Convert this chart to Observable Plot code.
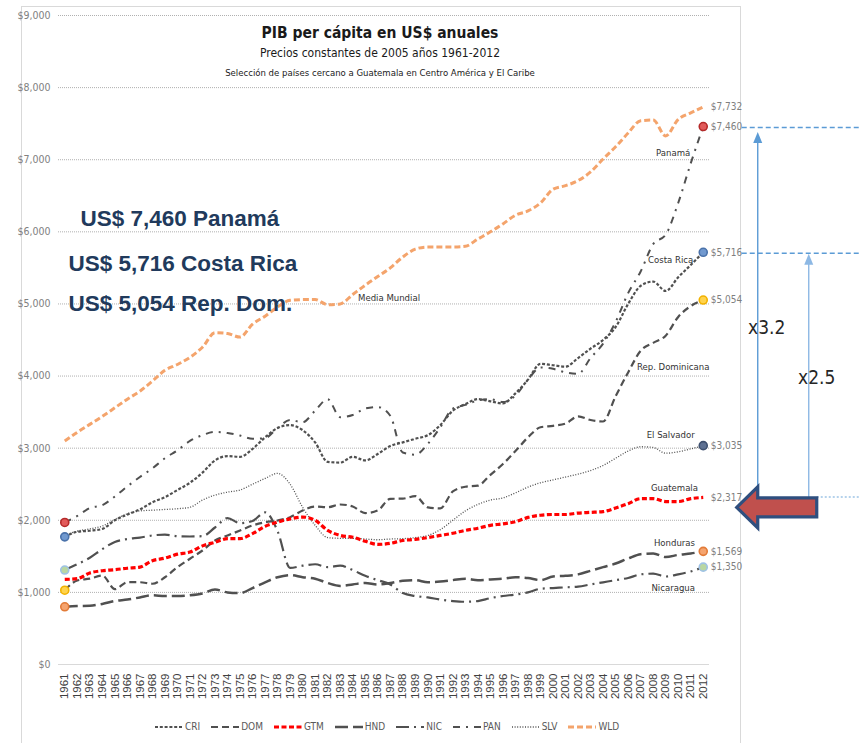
<!DOCTYPE html>
<html>
<head>
<meta charset="utf-8">
<script src="https://cdn.jsdelivr.net/npm/d3@7"></script>
<script src="https://cdn.jsdelivr.net/npm/@observablehq/plot@0.6"></script>
<style>
  html, body { margin: 0; padding: 0; background: #fff; }
  #wrap { position: relative; width: 860px; height: 743px; background: #fff; overflow: hidden; }
  #frame { position: absolute; left: 21px; top: 6px; width: 720px; height: 740px; border: 1px solid #d9d9d9; box-sizing: border-box; }
  #chart { position: absolute; left: 0; top: 0; }
  #legend { position: absolute; left: 155px; top: 721px; display: flex; align-items: center;
            font-family: "Liberation Sans Narrow", "DejaVu Sans Condensed", "Open Sans", sans-serif; font-stretch: condensed;
            font-size: 10px; color: #595959; }
  #legend .item { display: flex; align-items: center; margin-right: 11px; }
  #legend svg { margin-right: 2px; }
</style>
</head>
<body>
<div id="wrap">
  <div id="frame"></div>
  <div id="chart"></div>
  <div id="legend"></div>
</div>
<script>
// ---------- DATA ----------
const years = d3.range(1961, 2013);
const CRI = [1770,1840,1855,1880,2000,2080,2150,2250,2320,2420,2520,2660,2830,2890,2880,2990,3150,3280,3320,3250,3080,2810,2800,2880,2830,2920,3030,3080,3130,3180,3320,3520,3610,3680,3650,3620,3760,3950,4170,4150,4130,4250,4380,4500,4680,5000,5250,5310,5180,5370,5540,5716];
const DOM = [1030,1165,1190,1234,1045,1141,1141,1120,1210,1350,1466,1581,1720,1789,1858,1928,1973,1997,2043,2136,2191,2181,2219,2191,2100,2136,2298,2300,2335,2180,2165,2400,2465,2480,2630,2780,2960,3150,3290,3310,3340,3440,3390,3370,3720,4050,4350,4460,4560,4820,4970,5054];
const GTM = [1180,1190,1270,1300,1315,1335,1350,1440,1475,1530,1560,1645,1695,1745,1745,1815,1915,1975,2020,2045,2000,1860,1790,1765,1710,1665,1680,1720,1735,1760,1790,1820,1860,1890,1930,1950,1980,2040,2070,2080,2080,2100,2110,2120,2170,2230,2300,2300,2260,2260,2300,2317];
const HND = [800,810,815,840,880,900,930,960,950,950,960,985,1040,1000,990,1060,1140,1210,1240,1210,1190,1130,1090,1110,1130,1110,1130,1160,1170,1140,1150,1170,1190,1170,1180,1190,1210,1200,1170,1220,1230,1250,1300,1350,1400,1470,1530,1540,1490,1520,1540,1569];
const NIC = [1310,1390,1480,1600,1700,1740,1760,1790,1800,1780,1775,1780,1900,2030,1960,1990,2110,1850,1340,1370,1390,1350,1370,1310,1230,1170,1110,990,950,930,900,880,870,880,920,950,970,1000,1050,1060,1070,1080,1110,1140,1170,1200,1250,1260,1220,1250,1290,1350];
const PAN = [1970,2060,2170,2210,2330,2470,2600,2720,2860,2970,3100,3180,3225,3210,3175,3130,3140,3280,3390,3360,3520,3680,3430,3460,3550,3570,3450,2940,2910,3060,3290,3550,3600,3660,3680,3640,3730,3950,4120,4100,4050,4030,4250,4450,4750,5150,5450,5830,5960,6400,6950,7460];
const SLV = [1790,1850,1880,1920,2010,2090,2130,2140,2150,2160,2180,2280,2350,2390,2420,2500,2580,2650,2500,2180,1930,1760,1750,1750,1740,1730,1740,1745,1760,1790,1870,2000,2130,2220,2280,2310,2380,2460,2520,2560,2600,2640,2690,2760,2860,2960,3020,3010,2930,2950,2990,3035];
const WLD = [3100,3220,3330,3440,3560,3680,3790,3930,4080,4160,4260,4400,4600,4590,4540,4720,4830,4960,5050,5060,5060,4990,5000,5130,5260,5380,5500,5650,5760,5790,5790,5790,5800,5900,6000,6110,6230,6290,6400,6590,6640,6710,6830,7010,7180,7370,7540,7550,7330,7560,7650,7732];

const codes = ["CRI","DOM","GTM","HND","NIC","PAN","SLV","WLD"];
const countryNames = {PAN:"Panamá", CRI:"Costa Rica", DOM:"Rep. Dominicana", SLV:"El Salvador", GTM:"Guatemala", HND:"Honduras", NIC:"Nicaragua", WLD:"Media Mundial"};
const yTicks = d3.range(0, 9001, 1000);
const titleLines = ["PIB per cápita en US$ anuales", "Precios constantes de 2005 años 1961-2012", "Selección de países cercano a Guatemala en Centro América y El Caribe"];

// ---------- TABLE ----------
const seriesData = {CRI, DOM, GTM, HND, NIC, PAN, SLV, WLD};
const rows = codes.flatMap(c => years.map((yr, i) => ({code: c, year: yr, value: seriesData[c][i]})));
const first = c => ({code: c, year: years[0], value: seriesData[c][0]});
const last = c => ({code: c, year: years[years.length - 1], value: seriesData[c][years.length - 1]});
const fmt = d3.format(",");

// ---------- STYLES ----------
const lineStyle = {
  CRI: {stroke: "#505050", w: 2.2, dash: "3,1.8"},
  DOM: {stroke: "#505050", w: 2.2, dash: "7,4"},
  GTM: {stroke: "#ff0000", w: 3.2, dash: "5,2.5"},
  HND: {stroke: "#505050", w: 2.5, dash: "13,5"},
  NIC: {stroke: "#505050", w: 2.2, dash: "13,5,2,5"},
  PAN: {stroke: "#505050", w: 2.0, dash: "7,6,2,6"},
  SLV: {stroke: "#505050", w: 1.3, dash: "1,1.6"},
  WLD: {stroke: "#f4a46c", w: 3.0, dash: "6,3"}
};
const dotStyle = {
  PAN: {fill: "#e25b5b", stroke: "#b52a2a"},
  CRI: {fill: "#7199cf", stroke: "#4a72aa"},
  DOM: {fill: "#ffd34d", stroke: "#f2b200"},
  HND: {fill: "#f5a46f", stroke: "#e27b38"},
  NIC: {fill: "#b9d7a3", stroke: "#9ec2e6"},
  SLV: {fill: "#5d7092", stroke: "#3e506f"}
};
const startDots = ["PAN","CRI","NIC","DOM","HND"].map(first);
const endDots = ["PAN","CRI","DOM","SLV","HND","NIC"].map(last);
const endLabels = ["WLD","PAN","CRI","DOM","SLV","GTM","HND","NIC"].map(last);
// annotation label positions (year, value) for country names
const nameLabels = [
  {code: "PAN", x: 2009.6, y: 7100},
  {code: "CRI", x: 2009.4, y: 5610},
  {code: "DOM", x: 2009.6, y: 4120},
  {code: "SLV", x: 2009.4, y: 3190},
  {code: "GTM", x: 2009.7, y: 2455},
  {code: "HND", x: 2009.7, y: 1690},
  {code: "NIC", x: 2009.6, y: 1055},
  {code: "WLD", x: 1986.9, y: 5090}
];

const narrow = '"Liberation Sans Narrow", "DejaVu Sans Condensed", "Open Sans", sans-serif';

// right-side annotation (arrows and multipliers), positioned from scales
function rightAnnotations(index, scales) {
  const x = scales.x, y = scales.y;
  const xe = x(years[years.length - 1]);
  const yP = y(PAN[PAN.length - 1]), yC = y(CRI[CRI.length - 1]), yG = y(GTM[GTM.length - 1]);
  const g = d3.create("svg:g");
  // dashed reference lines
  [yP, yC].forEach(yy => g.append("line").attr("x1", xe + 39).attr("x2", 860).attr("y1", yy + 1.5).attr("y2", yy + 1.5)
    .attr("stroke", "#5b9bd5").attr("stroke-width", 1.5).attr("stroke-dasharray", "5,3"));
  g.append("line").attr("x1", xe + 114).attr("x2", 860).attr("y1", yG).attr("y2", yG)
    .attr("stroke", "#9dc3e6").attr("stroke-width", 1.5).attr("stroke-dasharray", "2,2");
  // vertical arrows
  const arrows = [{ax: xe + 55, top: yP + 6, col: "#5b9bd5"}, {ax: xe + 106, top: yC + 2, col: "#8db8e4"}];
  arrows.forEach(a => {
    g.append("line").attr("x1", a.ax).attr("x2", a.ax).attr("y1", yG).attr("y2", a.top + 10)
      .attr("stroke", a.col).attr("stroke-width", 1.4);
    g.append("path").attr("d", `M${a.ax},${a.top} L${a.ax - 4.5},${a.top + 11} L${a.ax + 4.5},${a.top + 11} Z`).attr("fill", a.col);
  });
  // multipliers
  const r1 = "x" + (PAN[PAN.length - 1] / GTM[GTM.length - 1]).toFixed(1);
  const r2 = "x" + (CRI[CRI.length - 1] / GTM[GTM.length - 1]).toFixed(1);
  g.append("text").attr("x", xe + 64).attr("y", y(4670)).attr("dy", "0.35em").text(r1)
    .attr("font-family", narrow).attr("font-size", 19).attr("fill", "#262626");
  g.append("text").attr("x", xe + 114).attr("y", y(3970)).attr("dy", "0.35em").text(r2)
    .attr("font-family", narrow).attr("font-size", 19).attr("fill", "#262626");
  // big block arrow pointing at Guatemala
  const c = yG + 10.5, tip = xe + 34, hb = xe + 55, end = xe + 114;
  g.append("path").attr("d", `M${tip},${c} L${hb},${c - 20.5} L${hb},${c - 9.5} L${end},${c - 9.5} L${end},${c + 9.5} L${hb},${c + 9.5} L${hb},${c + 20.5} Z`)
    .attr("fill", "#c0504d").attr("stroke", "#2f4f7f").attr("stroke-width", 3.2).attr("stroke-linejoin", "miter");
  return g.node();
}

const lineMarks = ["CRI","DOM","HND","NIC","PAN","SLV","WLD","GTM"].map(c =>
  Plot.line(rows.filter(r => r.code === c), {
    x: "year", y: "value", curve: "monotone-x",
    stroke: lineStyle[c].stroke, strokeWidth: lineStyle[c].w, strokeDasharray: lineStyle[c].dash,
    strokeLinecap: "butt", strokeLinejoin: "round"
  })
);

const chart = Plot.plot({
  width: 860,
  height: 716,
  marginLeft: 58,
  marginRight: 151,
  marginTop: 15,
  marginBottom: 52,
  x: {domain: [1960.5, 2012.5], axis: null},
  y: {domain: [0, 9000], axis: null},
  style: {background: "none", fontFamily: narrow, overflow: "visible"},
  marks: [
    Plot.gridY(yTicks.filter(d => d > 0), {stroke: "#b0b0b0", strokeOpacity: 1, strokeWidth: 1, strokeDasharray: "1,1"}),
    Plot.ruleY([0], {stroke: "#d9d9d9", strokeWidth: 1}),
    Plot.axisY(yTicks, {tickSize: 0, tickPadding: 8, fontSize: 10.5, fill: "#808080", stroke: "none",
      tickFormat: d => "$" + fmt(d), fontFamily: narrow}),
    Plot.axisX(years, {tickSize: 0, tickPadding: 9, tickRotate: -90, fontSize: 11.5, fill: "#404040", stroke: "none",
      tickFormat: d => String(d), fontFamily: '"Liberation Sans", Arial, sans-serif'}),
    ...lineMarks,
    Plot.dot(startDots.concat(endDots), {x: "year", y: "value", r: 4,
      fill: d => dotStyle[d.code].fill, stroke: d => dotStyle[d.code].stroke, strokeWidth: 1.6}),
    Plot.text(endLabels, {x: "year", y: "value", dx: 7.5, textAnchor: "start", text: d => "$" + fmt(d.value),
      fontSize: 10, fill: "#7f7f7f"}),
    Plot.text(nameLabels, {x: "x", y: "y", text: d => countryNames[d.code], fontSize: 9.5, fill: "#333"}),
    // titles
    Plot.text([titleLines[0]], {text: d => d, frameAnchor: "top", dx: -4, dy: 18, lineAnchor: "middle",
      fontSize: 15.5, fontWeight: "bold", fill: "#1a1a1a"}),
    Plot.text([titleLines[1]], {text: d => d, frameAnchor: "top", dx: -4, dy: 38, lineAnchor: "middle",
      fontSize: 12, fill: "#1a1a1a"}),
    Plot.text([titleLines[2]], {text: d => d, frameAnchor: "top", dx: -4, dy: 57, lineAnchor: "middle",
      fontSize: 9.5, fill: "#1a1a1a"}),
    // big highlight texts
    Plot.text([`US$ ${fmt(PAN[PAN.length - 1])} ${countryNames.PAN}`], {text: d => d, frameAnchor: "top-left", dx: 22, dy: 203,
      lineAnchor: "middle", textAnchor: "start", fontSize: 22.5, fontWeight: "bold", fill: "#213a5c",
      fontFamily: '"Liberation Sans", Arial, sans-serif'}),
    Plot.text([`US$ ${fmt(CRI[CRI.length - 1])} ${countryNames.CRI}`], {text: d => d, frameAnchor: "top-left", dx: 10, dy: 248,
      lineAnchor: "middle", textAnchor: "start", fontSize: 22.5, fontWeight: "bold", fill: "#213a5c",
      fontFamily: '"Liberation Sans", Arial, sans-serif'}),
    Plot.text([`US$ ${fmt(DOM[DOM.length - 1])} Rep. Dom.`], {text: d => d, frameAnchor: "top-left", dx: 10, dy: 288,
      lineAnchor: "middle", textAnchor: "start", fontSize: 22.5, fontWeight: "bold", fill: "#213a5c",
      fontFamily: '"Liberation Sans", Arial, sans-serif'}),
    rightAnnotations
  ]
});
document.getElementById("chart").appendChild(chart);

// ---------- LEGEND ----------
const legend = d3.select("#legend");
codes.forEach(c => {
  const it = legend.append("div").attr("class", "item");
  const s = it.append("svg").attr("width", 28).attr("height", 8);
  s.append("line").attr("x1", 0).attr("x2", 28).attr("y1", 4).attr("y2", 4)
    .attr("stroke", lineStyle[c].stroke).attr("stroke-width", Math.max(lineStyle[c].w, 1.3))
    .attr("stroke-dasharray", lineStyle[c].dash);
  it.append("span").text(c);
});
</script>
</body>
</html>
